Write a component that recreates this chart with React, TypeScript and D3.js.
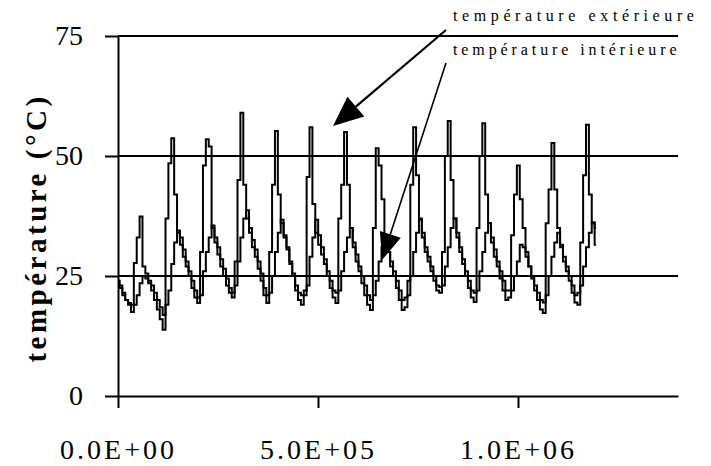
import React, { useRef, useEffect } from "react";
import * as d3 from "d3";

// readings every 2 h, starting at t = 0 s
const sampleStep = 7200;

// température extérieure, one row per day (0h, 2h, ... 22h)
const extTemp = [
  24, 22.5, 21, 20, 19, 17.5, 27.7, 33, 37.4, 27, 25.5, 24,
  22, 20, 18, 16, 13.8, 37, 48.5, 53.7, 42, 34, 31.5, 29,
  27, 25, 22.5, 20.5, 19.4, 30, 48, 53.5, 52, 35, 32, 29.5,
  27, 25, 23, 21.5, 20.5, 28, 45, 59, 44, 37, 34, 31,
  29, 26.5, 24, 21, 19.4, 30, 44, 55.2, 42, 36, 33, 30.5,
  27.5, 25, 22, 20, 19, 22, 45.6, 56, 40, 34, 31.5, 29.5,
  27.5, 25, 22.5, 20.5, 19.4, 37, 44, 55, 44, 35, 31, 28,
  26, 23.5, 21, 19, 17.9, 35, 51.6, 48, 41, 33, 30, 27,
  25, 22.5, 20, 17.9, 18.5, 24, 44, 56, 46, 37, 33, 30,
  28, 26, 24, 22, 21.5, 30, 50, 57.3, 45, 37, 33, 30,
  27.5, 25, 22.5, 20.5, 19.6, 35, 50, 56.8, 42, 36, 32, 29,
  27, 24.5, 22, 20, 20.5, 33.5, 42, 48, 41, 35, 30, 27,
  24.5, 22, 20, 18, 17.3, 36, 43, 52.7, 43, 35, 31, 28,
  26, 24, 21.5, 19.5, 19, 32, 46, 56.5, 42, 36, 31.5,
];

// température intérieure
const intTemp = [
  24, 23, 21.5, 20, 19.4, 19, 19, 21, 23.5, 25, 24.5, 23.5,
  23, 21.5, 20, 18.5, 16.9, 19, 22, 27.5, 32, 34.5, 33, 30.5,
  28, 26, 24, 22, 20.5, 21, 26, 30, 33, 35.5, 33, 31,
  28.5, 26.5, 24.5, 22.5, 21.5, 23, 28, 33, 37, 38.7, 35, 32.5,
  30.5, 28, 25.5, 22.5, 21, 21.5, 25, 30, 34, 36.7, 33.5, 31,
  28, 25.5, 23, 21.5, 21, 21, 23, 29, 33, 36.7, 33.5, 31,
  28.5, 26, 24, 22, 21.5, 22, 26, 30, 33, 35, 32, 29.5,
  27, 25, 23, 21, 20, 21, 24, 28, 31, 32, 30, 28,
  26, 24, 22, 20, 20.5, 21, 25, 30, 34, 36.7, 34, 31,
  29, 27, 25, 23, 22.7, 23, 27, 31, 35, 37, 34, 31,
  28.5, 26, 24, 22, 21.5, 22, 26, 30, 34, 36, 33, 30.5,
  28, 26, 24, 22, 22, 22, 25, 28, 31.5, 31, 29, 27,
  25, 23, 21.5, 20, 19.5, 21, 25, 29, 32, 34, 31.5, 29,
  27, 25, 23, 21, 21.5, 23, 27, 31, 34, 36.2, 35,
];

const xTicks = [0, 5e5, 1e6];
const xTickLabels = ["0.0E+00", "5.0E+05", "1.0E+06"];
const yTicks = [0, 25, 50, 75];
const yGrid = [25, 50, 75];
const yTitle = "température (°C)";
const extLabel = "température extérieure";
const intLabel = "température intérieure";

const App = () => {
  const ref = useRef<SVGSVGElement>(null);
  const tWidth = 711;
  const tHeight = 466;

  useEffect(() => {
    const svg = d3.select(ref.current);
    svg.selectAll("*").remove();

    const x = d3.scaleLinear().domain([0, 1.4e6]).range([118, 678]);
    const y = d3.scaleLinear().domain([0, 75]).range([396, 36]);
    const font = "'Liberation Serif', 'Times New Roman', serif";

    // grid
    svg
      .append("g")
      .selectAll("line")
      .data(yGrid)
      .join("line")
      .attr("x1", x(0))
      .attr("x2", x(1.4e6))
      .attr("y1", (d) => y(d))
      .attr("y2", (d) => y(d))
      .attr("stroke", "#000")
      .attr("stroke-width", 2);

    // y axis
    const yAxis = svg
      .append("g")
      .attr("transform", `translate(${x(0)},0)`)
      .call(
        d3.axisLeft(y).tickValues(yTicks).tickSize(13).tickSizeOuter(0).tickPadding(22)
      );
    yAxis.selectAll("path, line").attr("stroke", "#000").attr("stroke-width", 2);
    yAxis
      .selectAll("text")
      .attr("font-family", font)
      .attr("font-size", 28)
      .attr("fill", "#000");

    // x axis
    const xAxis = svg
      .append("g")
      .attr("transform", `translate(0,${y(0)})`)
      .call(
        d3
          .axisBottom(x)
          .tickValues(xTicks)
          .tickFormat((d, i) => xTickLabels[i])
          .tickSize(12)
          .tickSizeOuter(0)
          .tickPadding(31)
      );
    xAxis.selectAll("path, line").attr("stroke", "#000").attr("stroke-width", 2);
    xAxis
      .selectAll("text")
      .attr("font-family", font)
      .attr("font-size", 28)
      .attr("letter-spacing", 3)
      .attr("fill", "#000");

    // series
    const line = d3
      .line<number>()
      .x((d, i) => x(i * sampleStep))
      .y((d) => y(d))
      .curve(d3.curveStep);

    svg
      .append("path")
      .attr("d", line(intTemp))
      .attr("fill", "none")
      .attr("stroke", "#000")
      .attr("stroke-width", 2);
    svg
      .append("path")
      .attr("d", line(extTemp))
      .attr("fill", "none")
      .attr("stroke", "#000")
      .attr("stroke-width", 2);

    // y title
    svg
      .append("text")
      .attr("transform", "translate(46,228) rotate(-90)")
      .attr("text-anchor", "middle")
      .attr("font-family", font)
      .attr("font-weight", "bold")
      .attr("font-size", 29)
      .attr("letter-spacing", 3.5)
      .text(yTitle);

    // annotations
    svg
      .append("text")
      .attr("x", 453)
      .attr("y", 21)
      .attr("font-family", font)
      .attr("font-size", 16)
      .attr("letter-spacing", 4.6)
      .text(extLabel);
    svg
      .append("text")
      .attr("x", 453)
      .attr("y", 55)
      .attr("font-family", font)
      .attr("font-size", 16)
      .attr("letter-spacing", 3.9)
      .text(intLabel);

    const arrow = (x1, y1, x2, y2, len, half, w) => {
      const dx = x2 - x1;
      const dy = y2 - y1;
      const l = Math.hypot(dx, dy);
      const ux = dx / l;
      const uy = dy / l;
      const bx = x2 - ux * len;
      const by = y2 - uy * len;
      svg
        .append("line")
        .attr("x1", x1)
        .attr("y1", y1)
        .attr("x2", bx)
        .attr("y2", by)
        .attr("stroke", "#000")
        .attr("stroke-width", w);
      svg
        .append("path")
        .attr(
          "d",
          `M${x2},${y2}L${bx - uy * half},${by + ux * half}L${bx + uy * half},${by - ux * half}Z`
        )
        .attr("fill", "#000");
    };
    arrow(446, 30, 333, 126, 30, 13, 2.2);
    arrow(446, 63, 382, 260, 27, 11, 1.6);
  }, []);

  return (
    <div id="chartD3" style={{ position: "absolute", left: 0, top: 0 }}>
      <svg ref={ref} width={tWidth} height={tHeight} style={{ display: "block", background: "#fff" }}></svg>
    </div>
  );
};

export default App;
